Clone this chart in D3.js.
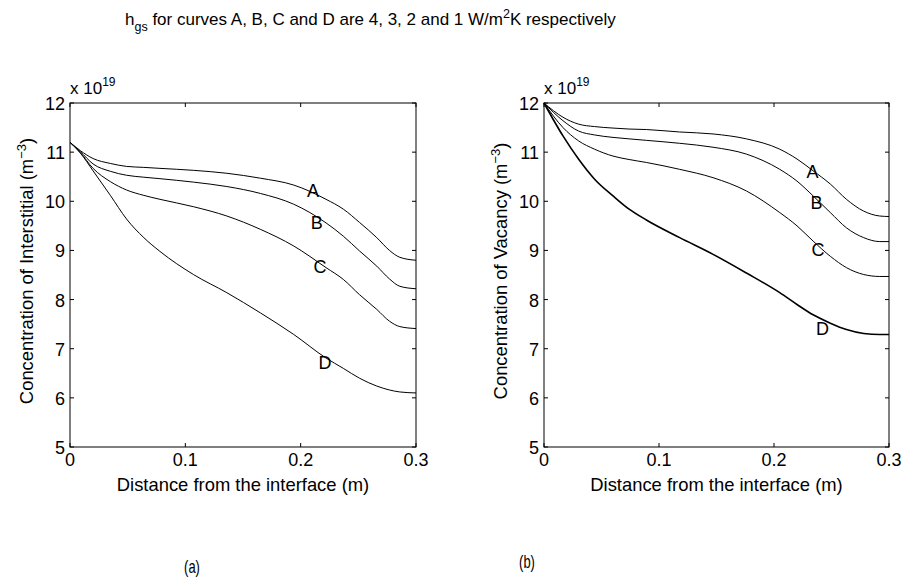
<!DOCTYPE html>
<html>
<head>
<meta charset="utf-8">
<script src="https://cdn.jsdelivr.net/npm/d3@7"></script>
<style>
  body { margin: 0; background: #fff; }
  svg { display: block; }
  text { font-family: "Liberation Sans", Arial, Helvetica, sans-serif; fill: #000; }
</style>
</head>
<body>
<svg id="chart" width="906" height="581"></svg>
<script>
// curve labels and axis ticks
const curveNames = ["A", "B", "C", "D"];
const xTicks = [0, 0.1, 0.2, 0.3];
const xTickLabels = ["0", "0.1", "0.2", "0.3"];
const yTicks = [5, 6, 7, 8, 9, 10, 11, 12];

// (a) interstitial concentration, x 10^19 m^-3
const xInterstitial = [0, 0.009, 0.02, 0.035, 0.049, 0.064, 0.078, 0.107, 0.136, 0.165, 0.194, 0.222, 0.237, 0.251, 0.266, 0.277, 0.286, 0.3];
const interA = [11.2, 11.03, 10.87, 10.77, 10.71, 10.69, 10.67, 10.63, 10.57, 10.47, 10.33, 10.04, 9.84, 9.57, 9.26, 9.0, 8.86, 8.8];
const interB = [11.2, 11.01, 10.76, 10.61, 10.53, 10.49, 10.46, 10.39, 10.30, 10.16, 9.94, 9.56, 9.29, 8.99, 8.68, 8.42, 8.27, 8.22];
const interC = [11.2, 10.99, 10.67, 10.40, 10.23, 10.12, 10.04, 9.89, 9.70, 9.43, 9.09, 8.65, 8.41, 8.10, 7.80, 7.56, 7.45, 7.41];
const interD = [11.2, 10.98, 10.62, 10.12, 9.64, 9.26, 8.98, 8.51, 8.14, 7.73, 7.29, 6.81, 6.60, 6.40, 6.24, 6.16, 6.12, 6.10];
const interLabelPos = [[0.2107, 10.22], [0.2139, 9.57], [0.2168, 8.68], [0.2211, 6.71]];

// (b) vacancy concentration, x 10^19 m^-3
const xVacancy = [0, 0.0165, 0.030, 0.044, 0.060, 0.074, 0.089, 0.118, 0.147, 0.176, 0.205, 0.220, 0.234, 0.249, 0.263, 0.278, 0.292, 0.3];
const vacA = [12.0, 11.71, 11.57, 11.52, 11.49, 11.47, 11.46, 11.41, 11.37, 11.27, 11.06, 10.86, 10.62, 10.35, 10.04, 9.80, 9.70, 9.69];
const vacB = [12.0, 11.64, 11.43, 11.35, 11.30, 11.27, 11.24, 11.18, 11.10, 10.96, 10.65, 10.41, 10.11, 9.77, 9.46, 9.26, 9.18, 9.18];
const vacC = [12.0, 11.50, 11.23, 11.06, 10.92, 10.85, 10.79, 10.65, 10.48, 10.21, 9.77, 9.50, 9.19, 8.88, 8.65, 8.51, 8.47, 8.47];
const vacD = [12.0, 11.33, 10.86, 10.45, 10.11, 9.84, 9.62, 9.26, 8.92, 8.54, 8.14, 7.90, 7.69, 7.52, 7.39, 7.31, 7.29, 7.29];
const vacLabelPos = [[0.2334, 10.60], [0.2369, 9.97], [0.2383, 9.02], [0.2421, 7.42]];

const svg = d3.select("#chart");

// title with subscript / superscript
let title = svg.append("text").attr("x", 125).attr("y", 25).style("font-size", "17px");
title.append("tspan").text("h");
title.append("tspan").attr("dy", 6).style("font-size", "12.5px").text("gs");
title.append("tspan").attr("dy", -6).text(" for curves A, B, C and D are 4, 3, 2 and 1 W/m");
title.append("tspan").attr("dy", -7).style("font-size", "12.5px").text("2");
title.append("tspan").attr("dy", 7).text("K respectively");

/**
 * Draws one panel of the figure
 */
function drawPanel(opts) {
    let x = d3.scaleLinear().domain([0, 0.3]).range([opts.left, opts.right]);
    let y = d3.scaleLinear().domain([5, 12]).range([447, 103]);
    let g = svg.append("g");

    // axes box
    g.append("rect")
        .attr("x", x(0)).attr("y", y(12))
        .attr("width", x(0.3) - x(0)).attr("height", y(5) - y(12))
        .attr("fill", "none").attr("stroke", "#000").attr("stroke-width", 1);

    // inward ticks on all four sides
    let tl = 4;
    xTicks.forEach(function(t) {
        g.append("line").attr("x1", x(t)).attr("x2", x(t)).attr("y1", y(5)).attr("y2", y(5) - tl).attr("stroke", "#000");
        g.append("line").attr("x1", x(t)).attr("x2", x(t)).attr("y1", y(12)).attr("y2", y(12) + tl).attr("stroke", "#000");
    });
    yTicks.forEach(function(t) {
        g.append("line").attr("x1", x(0)).attr("x2", x(0) + tl).attr("y1", y(t)).attr("y2", y(t)).attr("stroke", "#000");
        g.append("line").attr("x1", x(0.3)).attr("x2", x(0.3) - tl).attr("y1", y(t)).attr("y2", y(t)).attr("stroke", "#000");
    });

    // tick labels
    g.selectAll(".xt").data(xTicks).enter().append("text")
        .attr("x", d => x(d)).attr("y", y(5) + 19)
        .attr("text-anchor", "middle").style("font-size", "18px")
        .text((d, i) => xTickLabels[i]);
    g.selectAll(".yt").data(yTicks).enter().append("text")
        .attr("x", x(0) - 5).attr("y", d => y(d) + 7)
        .attr("text-anchor", "end").style("font-size", "18px")
        .text(d => d);

    // exponent above the y axis
    let ex = g.append("text").attr("x", x(0)).attr("y", 94).style("font-size", "17px");
    ex.append("tspan").text("x 10");
    ex.append("tspan").attr("dy", -8).style("font-size", "12px").text("19");

    // axis labels
    g.append("text")
        .attr("x", (x(0) + x(0.3)) / 2).attr("y", 491)
        .attr("text-anchor", "middle").style("font-size", "18.4px")
        .text("Distance from the interface (m)");
    let yl = g.append("text")
        .attr("transform", "translate(" + opts.ylabelX + ",271) rotate(-90)")
        .attr("text-anchor", "middle").style("font-size", "18.4px");
    yl.append("tspan").text(opts.ylabel + " (m");
    yl.append("tspan").attr("dy", -7).style("font-size", "13px").text("\u22123");
    yl.append("tspan").attr("dy", 7).text(")");

    // curves
    let line = d3.line().curve(d3.curveMonotoneX)
        .x((d, i) => x(opts.xs[i]))
        .y(d => y(d));
    opts.series.forEach(function(s, i) {
        g.append("path")
            .attr("d", line(s))
            .attr("fill", "none")
            .attr("stroke", "#000")
            .attr("stroke-width", opts.widths[i]);
    });

    // curve labels
    opts.labels.forEach(function(p, i) {
        g.append("text")
            .attr("x", x(p[0])).attr("y", y(p[1]) + 6.5)
            .attr("text-anchor", "middle").style("font-size", "18px")
            .text(curveNames[i]);
    });

    // panel caption (narrow glyphs in the original)
    svg.append("text")
        .attr("transform", "translate(" + opts.capX + "," + opts.capY + ") scale(0.72,1)")
        .attr("text-anchor", "middle").style("font-size", "18px")
        .text(opts.caption);
}

drawPanel({
    left: 70, right: 416, xs: xInterstitial,
    series: [interA, interB, interC, interD], widths: [1, 1, 1, 1],
    labels: interLabelPos, ylabel: "Concentration of Interstitial", ylabelX: 33,
    caption: "(a)", capX: 192, capY: 573
});

drawPanel({
    left: 544, right: 889, xs: xVacancy,
    series: [vacA, vacB, vacC, vacD], widths: [1, 1, 1, 1.6],
    labels: vacLabelPos, ylabel: "Concentration of Vacancy", ylabelX: 507,
    caption: "(b)", capX: 527, capY: 568
});
</script>
</body>
</html>
